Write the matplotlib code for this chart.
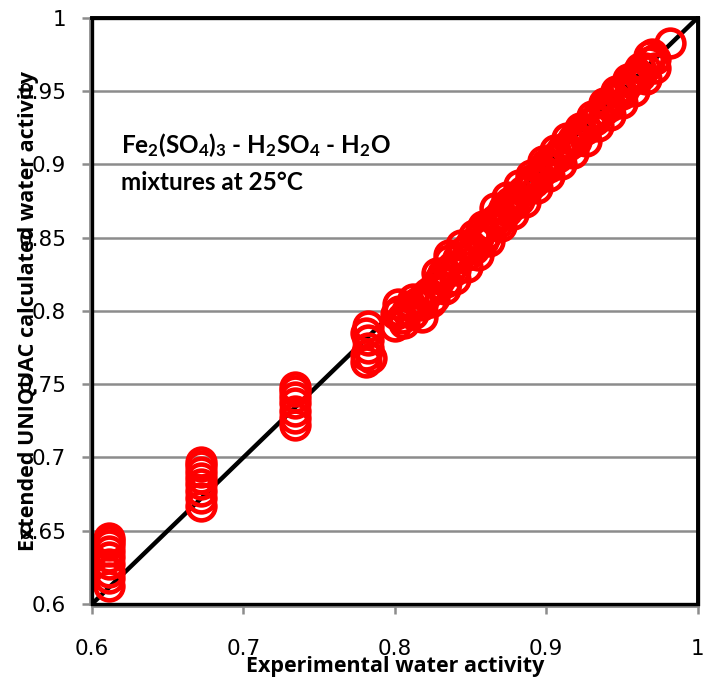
import matplotlib
matplotlib.use("Agg")
import matplotlib.pyplot as plt
from matplotlib.patches import Rectangle

plt.rcParams['mathtext.fontset'] = 'custom'
plt.rcParams['mathtext.rm'] = 'Lato:bold'
plt.rcParams['mathtext.it'] = 'Lato:bold'
plt.rcParams['mathtext.bf'] = 'Lato:bold'

# Experimental vs calculated water activity
x_exp = [
    0.611, 0.611, 0.611, 0.611, 0.611, 0.611, 0.611, 0.611, 0.611,
    0.672, 0.672, 0.672, 0.672, 0.672, 0.672, 0.672, 0.672,
    0.734, 0.734, 0.734, 0.734, 0.734, 0.734, 0.734,
    0.781, 0.781, 0.782, 0.782, 0.781, 0.782, 0.784,
    0.800, 0.801, 0.802, 0.803, 0.805, 0.808, 0.810, 0.812, 0.815, 0.818,
    0.820, 0.822, 0.825, 0.826, 0.828, 0.830, 0.832, 0.834, 0.836, 0.838,
    0.840, 0.842, 0.845, 0.848, 0.850, 0.852, 0.855, 0.857, 0.858, 0.860,
    0.863, 0.866, 0.868, 0.870, 0.872, 0.874, 0.876, 0.878, 0.880, 0.882,
    0.885, 0.888, 0.890, 0.892, 0.895, 0.898, 0.900, 0.902, 0.905, 0.908,
    0.910, 0.913, 0.916, 0.918, 0.920, 0.923, 0.926, 0.929, 0.932, 0.935,
    0.938, 0.940, 0.942, 0.945, 0.948, 0.950, 0.952, 0.955, 0.958, 0.960,
    0.962, 0.965, 0.968, 0.970, 0.972, 0.982,
    0.806, 0.812, 0.818, 0.824, 0.828, 0.833, 0.836, 0.840, 0.844, 0.848,
    0.852, 0.855, 0.858, 0.862, 0.866, 0.870, 0.874, 0.878, 0.882, 0.886,
    0.890, 0.894, 0.898, 0.902, 0.906, 0.910, 0.914, 0.918, 0.922, 0.926,
    0.930, 0.934, 0.938, 0.942, 0.946, 0.950, 0.954, 0.958, 0.962, 0.966,
    0.968, 0.972,
]
y_calc = [
    0.612, 0.618, 0.622, 0.627, 0.632, 0.636, 0.640, 0.643, 0.645,
    0.667, 0.672, 0.677, 0.682, 0.686, 0.690, 0.694, 0.697,
    0.722, 0.727, 0.732, 0.737, 0.741, 0.745, 0.748,
    0.765, 0.770, 0.775, 0.780, 0.785, 0.790, 0.768,
    0.790, 0.798, 0.805, 0.800, 0.795, 0.800, 0.803, 0.798, 0.806, 0.804,
    0.810, 0.812, 0.815, 0.809, 0.818, 0.822, 0.826, 0.820, 0.835, 0.830,
    0.828, 0.836, 0.840, 0.838, 0.845, 0.842, 0.850, 0.855, 0.848, 0.852,
    0.858, 0.862, 0.860, 0.866, 0.870, 0.868, 0.874, 0.872, 0.878, 0.876,
    0.882, 0.884, 0.889, 0.888, 0.893, 0.896, 0.900, 0.898, 0.904, 0.905,
    0.909, 0.912, 0.914, 0.917, 0.916, 0.922, 0.924, 0.928, 0.930, 0.935,
    0.937, 0.941, 0.940, 0.946, 0.950, 0.948, 0.953, 0.956, 0.958, 0.962,
    0.960, 0.966, 0.970, 0.975, 0.972, 0.983,
    0.792, 0.808, 0.796, 0.806, 0.826, 0.815, 0.838, 0.822, 0.845, 0.830,
    0.852, 0.838, 0.858, 0.848, 0.870, 0.858, 0.878, 0.866, 0.886, 0.874,
    0.893, 0.884, 0.902, 0.892, 0.910, 0.900, 0.918, 0.908, 0.925, 0.916,
    0.933, 0.926, 0.942, 0.934, 0.950, 0.942, 0.958, 0.950, 0.966, 0.958,
    0.974, 0.966,
]
diag = [0.6, 1.0]

x_ticks = [0.6, 0.7, 0.8, 0.9, 1.0]
x_ticklabels = ["0.6", "0.7", "0.8", "0.9", "1"]
y_ticks = [0.6, 0.65, 0.7, 0.75, 0.8, 0.85, 0.9, 0.95, 1.0]
y_ticklabels = ["0.6", "0.65", "0.7", "0.75", "0.8", "0.85", "0.9", "0.95", "1"]

fig = plt.figure(figsize=(7.05, 6.84), dpi=100)
ax = fig.add_axes([0.1305, 0.117, 0.859, 0.857])

ax.set_xlim(0.6, 1.0)
ax.set_ylim(0.6, 1.0)
ax.set_yticks(y_ticks)
ax.set_xticks(x_ticks)
ax.grid(axis='y', color='#8c8c8c', linewidth=1.8, zorder=0)
ax.set_axisbelow(True)

ax.plot(diag, diag, color='black', linewidth=3.2, zorder=2, solid_capstyle='butt')
ax.plot(x_exp, y_calc, linestyle='none', marker='o', markersize=20,
        markerfacecolor='none', markeredgecolor='#ff0000', markeredgewidth=3.3,
        zorder=3, clip_on=False)

for side in ['top', 'right']:
    ax.spines[side].set_color('black')
    ax.spines[side].set_linewidth(2.8)
for side in ['left', 'bottom']:
    ax.spines[side].set_color('#8c8c8c')
    ax.spines[side].set_linewidth(2.0)
    ax.spines[side].set_position(('outward', 1.5))
ax.add_patch(Rectangle((0, 0), 1, 1, transform=ax.transAxes, fill=False,
                       edgecolor='black', linewidth=2.4, zorder=4, clip_on=False))

ax.set_xticklabels(x_ticklabels, fontfamily='DejaVu Sans', fontsize=15.5)
ax.set_yticklabels(y_ticklabels, fontfamily='DejaVu Sans', fontsize=15.5)
ax.tick_params(axis='both', direction='out', length=6, width=1.8, color='#8c8c8c')
ax.tick_params(axis='x', pad=18)
ax.tick_params(axis='y', pad=11)

ax.set_xlabel("Experimental water activity", fontfamily='Open Sans', fontweight='bold',
              fontsize=15.5)
ax.xaxis.set_label_coords(0.5, -0.088)
ax.set_ylabel("Extended UNIQUAC calculated water activity", fontfamily='Open Sans',
              fontweight='bold', fontsize=15.5)
ax.yaxis.set_label_coords(-0.088, 0.5)

ax.text(0.048, 0.770, r'Fe$_2$(SO$_4$)$_3$ - H$_2$SO$_4$ - H$_2$O',
        transform=ax.transAxes, fontfamily='Lato', fontweight='bold', fontsize=17.5,
        va='baseline', ha='left')
ax.text(0.048, 0.706, 'mixtures at 25°C',
        transform=ax.transAxes, fontfamily='Lato', fontweight='bold', fontsize=17.5,
        va='baseline', ha='left')

fig.savefig("out.png", dpi=100)
